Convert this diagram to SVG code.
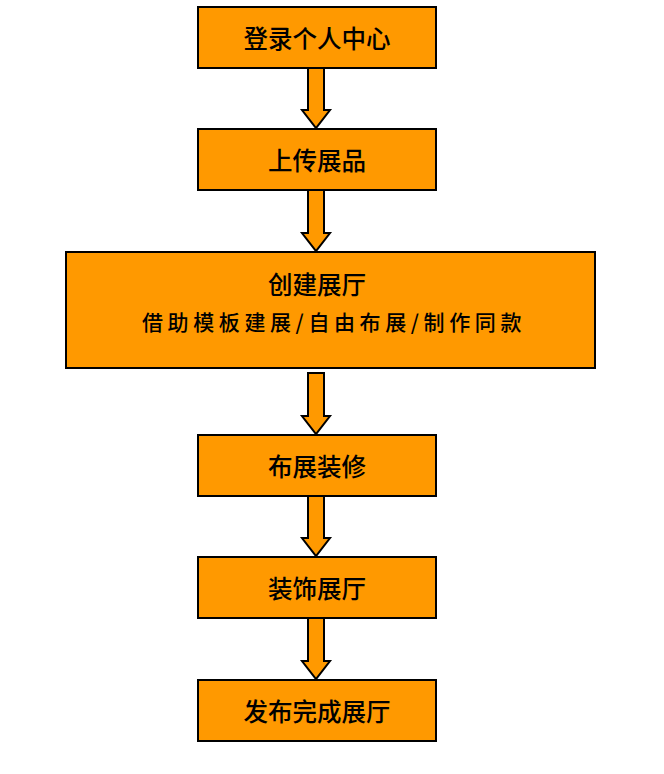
<svg xmlns="http://www.w3.org/2000/svg" width="664" height="774" viewBox="0 0 664 774">
<defs>
<style>
.box{fill:#FF9900;stroke:#000;stroke-width:2}
.arr{fill:#FF9900;stroke:#000;stroke-width:2;stroke-linejoin:miter}
.t{font-family:"Noto Sans CJK SC","Noto Sans CJK TC",sans-serif;font-size:24.5px;font-weight:500;fill:#000;text-anchor:middle;dominant-baseline:central}
.s{font-size:21px;letter-spacing:4.6px}
</style>
</defs>
<rect width="664" height="774" fill="#fff"/>
<g id="connectors">
<polygon class="arr" points="308,68 324,68 324,110 330,110 316,128 302,110 308,110"/>
<polygon class="arr" points="308,190 324,190 324,233 330,233 316,251 302,233 308,233"/>
<polygon class="arr" points="308,373 324,373 324,416 330,416 316,434 302,416 308,416"/>
<polygon class="arr" points="308,496 324,496 324,538 330,538 316,556 302,538 308,538"/>
<polygon class="arr" points="308,618 324,618 324,661 330,661 316,679 302,661 308,661"/>
</g>
<g id="n1"><rect class="box" x="198" y="7" width="238" height="61"/><text class="t" x="317" y="37">登录个人中心</text></g>
<g id="n2"><rect class="box" x="198" y="129" width="238" height="61"/><text class="t" x="317" y="159">上传展品</text></g>
<g id="n3"><rect class="box" x="66" y="252" width="529" height="116"/><text class="t" x="317" y="283">创建展厅</text><text class="t s" x="334" y="321">借助模板建展/自由布展/制作同款</text></g>
<g id="n4"><rect class="box" x="198" y="435" width="238" height="61"/><text class="t" x="317" y="465">布展装修</text></g>
<g id="n5"><rect class="box" x="198" y="557" width="238" height="61"/><text class="t" x="317" y="587">装饰展厅</text></g>
<g id="n6"><rect class="box" x="198" y="680" width="238" height="61"/><text class="t" x="317" y="710">发布完成展厅</text></g>
</svg>
